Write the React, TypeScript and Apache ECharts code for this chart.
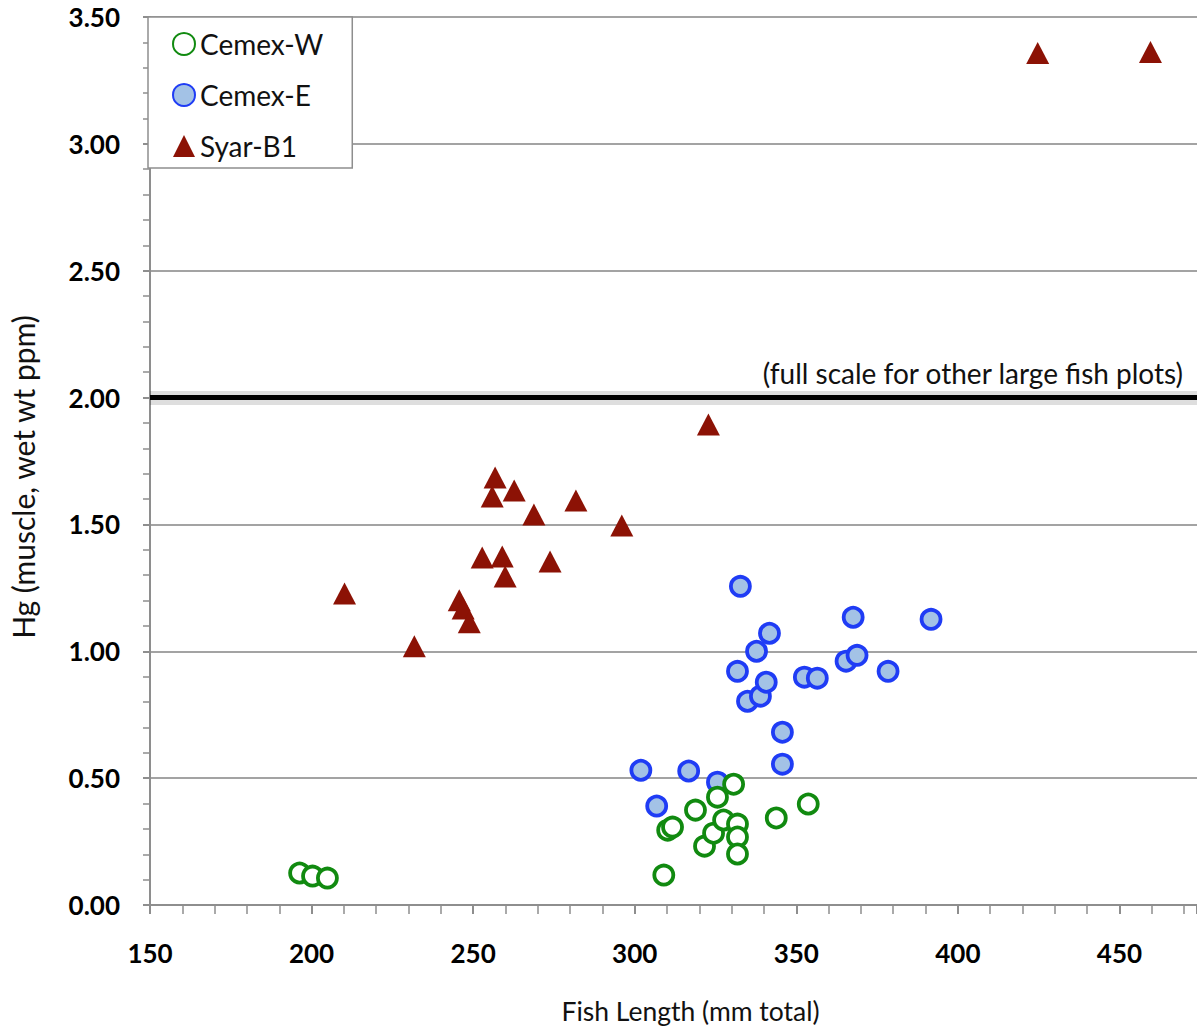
import React, { useEffect, useRef } from "react";
import * as echarts from "echarts";

// Fish length (mm total) and muscle Hg (wet wt ppm) per site
const cemexWLength = [196.3, 200.3, 204.9, 309.0, 310.2, 311.7, 318.8, 321.6, 324.4, 325.6, 327.5, 330.6, 331.8, 331.8, 331.8, 343.8, 353.7];
const cemexWHg = [0.126, 0.114, 0.106, 0.118, 0.295, 0.307, 0.374, 0.232, 0.283, 0.425, 0.335, 0.476, 0.319, 0.268, 0.201, 0.343, 0.398];

const cemexELength = [301.9, 306.8, 316.7, 325.6, 332.7, 331.8, 334.9, 337.7, 338.9, 340.7, 341.7, 345.7, 345.7, 352.5, 356.5, 365.4, 367.6, 368.8, 378.4, 391.7];
const cemexEHg = [0.531, 0.390, 0.528, 0.484, 1.256, 0.921, 0.803, 1.000, 0.823, 0.878, 1.071, 0.681, 0.555, 0.898, 0.894, 0.961, 1.134, 0.984, 0.921, 1.126];

const syarLength = [210.2, 231.8, 245.7, 246.9, 248.8, 252.8, 255.9, 256.8, 259.0, 259.9, 262.7, 268.8, 273.8, 281.8, 296.0, 322.8, 424.7, 459.6];
const syarHg = [1.228, 1.020, 1.201, 1.169, 1.114, 1.370, 1.610, 1.685, 1.374, 1.295, 1.634, 1.539, 1.354, 1.594, 1.496, 1.894, 3.358, 3.362];

const fullScaleLevel = 2.0;
const fullScaleNote = "(full scale for other large fish plots)";

const xTicks = { min: 150, max: 474, interval: 50 };
const yTicks = { min: 0, max: 3.5, interval: 0.5 };

const pairs = (xs: number[], ys: number[]) => xs.map((x, i) => [x, ys[i]]);

const FONT = "Lato, 'Open Sans', sans-serif";
const AXIS_GRAY = "#8e8e8e";

export default function App() {
  const ref = useRef<HTMLDivElement>(null);

  useEffect(() => {
    if (!ref.current) return;
    const chart = echarts.init(ref.current, null, { renderer: "svg" });
    chart.setOption({
      animation: false,
      backgroundColor: "#ffffff",
      textStyle: { fontFamily: FONT },
      grid: { left: 148, top: 17, right: 0, bottom: 123, containLabel: false },
      legend: {
        orient: "vertical",
        left: 148,
        top: 17,
        padding: [13, 29, 8, 24],
        itemGap: 23,
        itemWidth: 22,
        itemHeight: 22,
        itemTextGap: 6,
        backgroundColor: "#ffffff",
        borderColor: AXIS_GRAY,
        borderWidth: 1.5,
        textStyle: { fontFamily: FONT, fontSize: 28, color: "#111" },
        data: ["Cemex-W", "Cemex-E", "Syar-B1"],
      },
      xAxis: {
        type: "value",
        min: xTicks.min,
        max: xTicks.max,
        interval: xTicks.interval,
        name: "Fish Length (mm total)",
        nameLocation: "middle",
        nameGap: 92,
        nameTextStyle: { fontFamily: FONT, fontSize: 26.5, color: "#111", padding: [0, 0, 0, 34] },
        axisLine: { show: true, lineStyle: { color: AXIS_GRAY, width: 2 } },
        axisTick: { show: true, length: 9, lineStyle: { color: AXIS_GRAY, width: 2 } },
        minorTick: { show: true, splitNumber: 5, length: 9, lineStyle: { color: AXIS_GRAY, width: 1.5 } },
        splitLine: { show: false },
        axisLabel: {
          margin: 35,
          fontSize: 26,
          fontWeight: "bold",
          color: "#000",
          fontFamily: FONT,
          showMaxLabel: false,
        },
      },
      yAxis: {
        type: "value",
        min: yTicks.min,
        max: yTicks.max,
        interval: yTicks.interval,
        name: "Hg (muscle, wet wt ppm)",
        nameLocation: "middle",
        nameGap: 112,
        nameTextStyle: { fontFamily: FONT, fontSize: 30, color: "#111", padding: [0, 32, 0, 0] },
        axisLine: { show: true, lineStyle: { color: AXIS_GRAY, width: 2 } },
        axisTick: { show: true, length: 7, lineStyle: { color: AXIS_GRAY, width: 2 } },
        minorTick: { show: true, splitNumber: 5, length: 7, lineStyle: { color: AXIS_GRAY, width: 1.5 } },
        splitLine: { show: true, lineStyle: { color: "#a3a3a3", width: 2 } },
        axisLabel: {
          margin: 30,
          fontSize: 26,
          fontWeight: "bold",
          color: "#000",
          fontFamily: FONT,
          formatter: (v: number) => v.toFixed(2),
        },
      },
      series: [
        {
          name: "Cemex-W",
          type: "scatter",
          symbol: "circle",
          symbolSize: 19,
          data: pairs(cemexWLength, cemexWHg),
          itemStyle: { color: "#ffffff", borderColor: "#118a10", borderWidth: 3.8, opacity: 1 },
          z: 3,
          markLine: {
            silent: true,
            symbol: "none",
            z: 5,
            data: [
              // soft halo under the reference level
              {
                yAxis: fullScaleLevel,
                lineStyle: { color: "rgba(0,0,0,0.13)", width: 14, type: "solid" },
                label: { show: false },
              },
              {
                yAxis: fullScaleLevel,
                lineStyle: { color: "#000", width: 5, type: "solid" },
                label: {
                  show: true,
                  position: "insideEndTop",
                  formatter: fullScaleNote,
                  fontFamily: FONT,
                  fontSize: 28,
                  color: "#111",
                  distance: [14, 11],
                },
              },
            ],
          },
        },
        {
          name: "Cemex-E",
          type: "scatter",
          symbol: "circle",
          symbolSize: 19,
          data: pairs(cemexELength, cemexEHg),
          itemStyle: { color: "#a3c2e6", borderColor: "#1f3cf5", borderWidth: 3.8, opacity: 1 },
          z: 2,
        },
        {
          name: "Syar-B1",
          type: "scatter",
          symbol: "triangle",
          symbolSize: [23, 22],
          data: pairs(syarLength, syarHg),
          itemStyle: { color: "#8c1205", opacity: 1 },
          z: 4,
        },
      ],
    });
    return () => chart.dispose();
  }, []);

  return (
    <div
      ref={ref}
      style={{ position: "absolute", left: 0, top: 0, width: 1197, height: 1029, background: "#fff" }}
    />
  );
}
